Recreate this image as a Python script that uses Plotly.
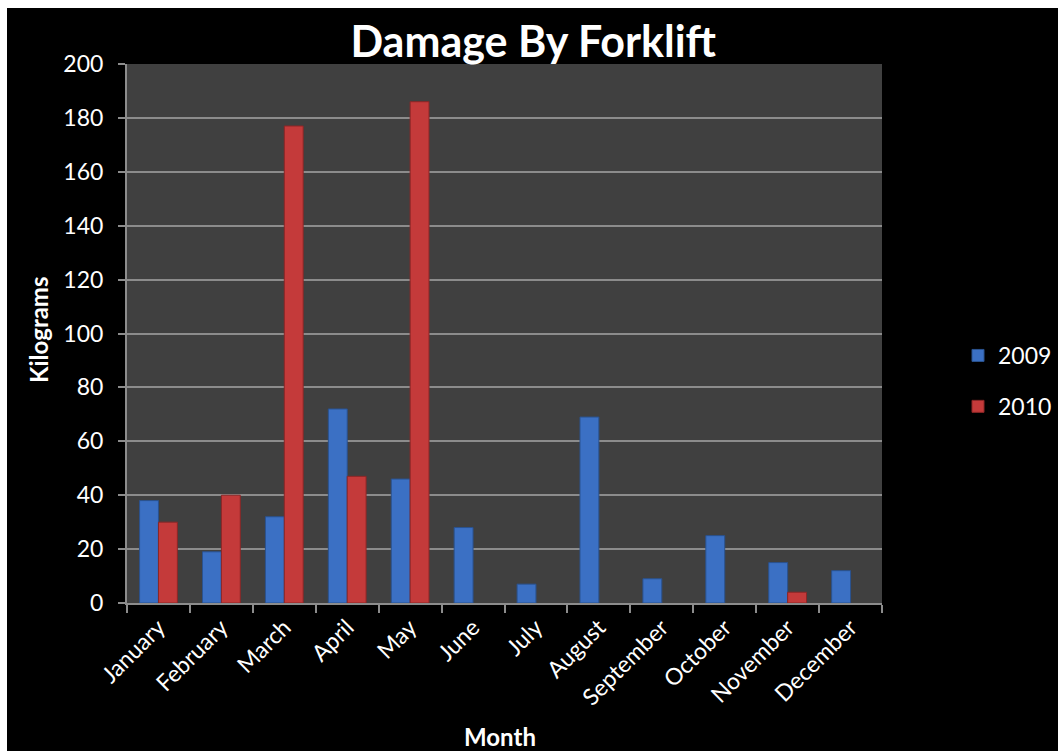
import plotly.graph_objects as go

months = ["January", "February", "March", "April", "May", "June", "July",
          "August", "September", "October", "November", "December"]
y2009 = [38, 19, 32, 72, 46, 28, 7, 69, 9, 25, 15, 12]
y2010 = [30, 40, 177, 47, 186, None, None, None, None, None, 4, None]
y_ticks = [0, 20, 40, 60, 80, 100, 120, 140, 160, 180, 200]

FONT = "Lato"
fig = go.Figure()
fig.add_trace(go.Bar(x=months, y=y2009, name="2009", legendgroup="a",
                     marker=dict(color="#3b70c4", line=dict(color="#2a528f", width=1))))
fig.add_trace(go.Bar(x=months, y=y2010, name="2010", legendgroup="b",
                     marker=dict(color="#c43a3a", line=dict(color="#8c2626", width=1))))

W, H = 1058, 751
L, R, T, B = 127, 882, 64, 603
pw, ph = R - L, B - T

def px_x(x):
    return (x - L) / pw

def px_y(y):
    return (B - y) / ph

# white border at top and left
shapes = [
    dict(type="rect", xref="paper", yref="paper", x0=px_x(-20), x1=px_x(1100),
         y0=px_y(8), y1=px_y(-20), fillcolor="white", line=dict(width=0), layer="above"),
    dict(type="rect", xref="paper", yref="paper", x0=px_x(-20), x1=px_x(7),
         y0=px_y(800), y1=px_y(-20), fillcolor="white", line=dict(width=0), layer="above"),
]

fig.update_layout(
    width=W, height=H,
    margin=dict(l=L, r=W - R, t=T, b=H - B, autoexpand=False),
    paper_bgcolor="black", plot_bgcolor="#404040",
    font=dict(family=FONT, color="white", size=23),
    title=dict(text="<b>Damage By Forklift</b>", x=0.504, xanchor="center",
               y=1 - 42 / H, yanchor="middle", yref="container",
               font=dict(size=43, family=FONT, color="white")),
    barmode="group", bargap=0.4, bargroupgap=0,
    showlegend=True,
    legend=dict(x=px_x(958), xanchor="left", y=px_y(381), yanchor="middle",
                bgcolor="rgba(0,0,0,0)", font=dict(size=23, color="white"),
                tracegroupgap=18, traceorder="grouped", itemwidth=30),
    shapes=shapes,
    annotations=[
        dict(text="<b>Kilograms</b>", xref="paper", yref="paper", x=px_x(38), y=px_y(330),
             showarrow=False, textangle=-90, font=dict(size=24, family=FONT, color="white"),
             xanchor="center", yanchor="middle"),
        dict(text="<b>Month</b>", xref="paper", yref="paper", x=px_x(500), y=px_y(736),
             showarrow=False, font=dict(size=24, family=FONT, color="white"),
             xanchor="center", yanchor="middle"),
    ],
)
fig.update_yaxes(range=[0, 200], tickvals=y_ticks, ticktext=[str(v) for v in y_ticks],
                 showgrid=True, gridcolor="#8c8c8c", gridwidth=2,
                 showline=True, linecolor="#8c8c8c", linewidth=2,
                 ticks="outside", ticklen=7, tickcolor="#8c8c8c", tickwidth=2,
                 ticklabelstandoff=10,
                 tickfont=dict(size=23, color="white"), zeroline=False, fixedrange=True)
fig.update_xaxes(tickangle=-45, tickson="boundaries", ticks="outside", ticklen=8,
                 tickcolor="#8c8c8c", tickwidth=2, showline=True, linecolor="#8c8c8c",
                 linewidth=2, showgrid=False, tickfont=dict(size=23, color="white"),
                 fixedrange=True)

fig.write_html("out.html")
